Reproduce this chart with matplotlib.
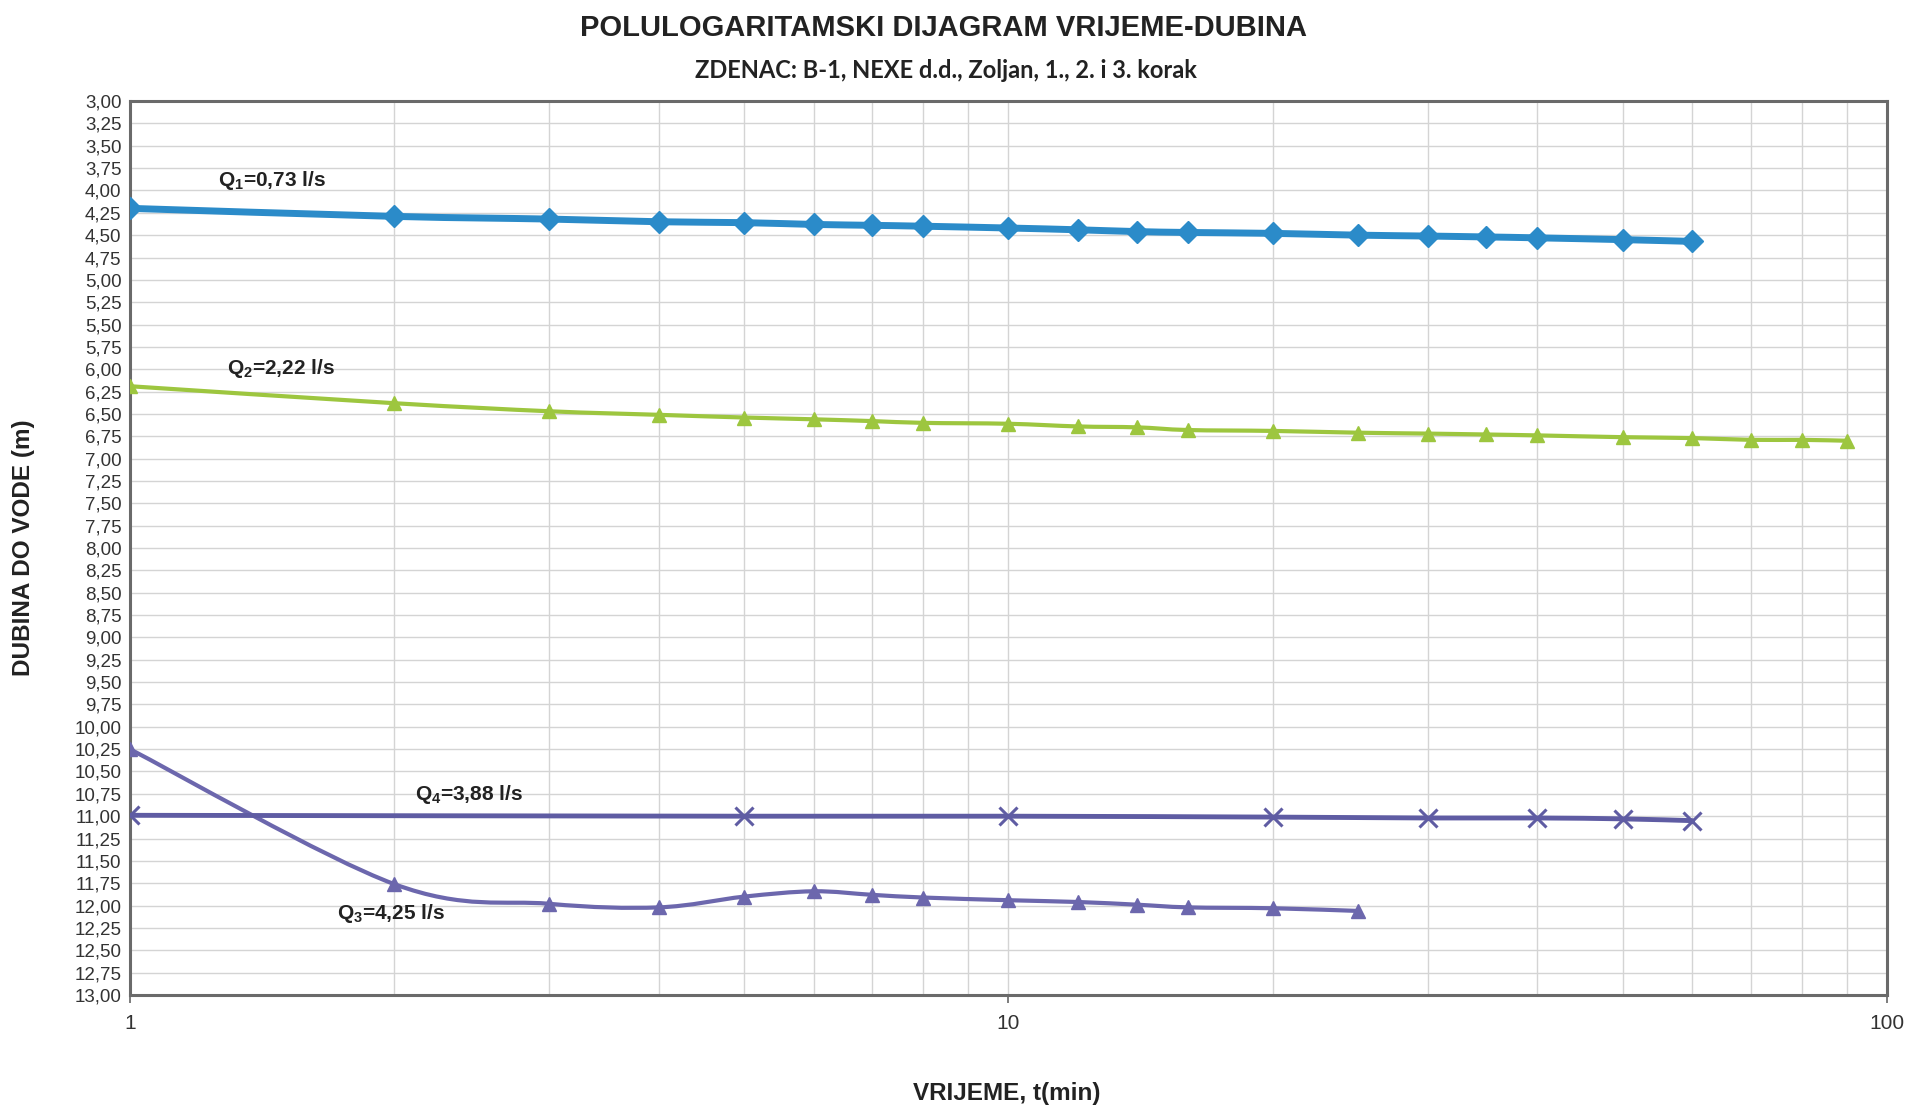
import numpy as np
import matplotlib
matplotlib.use("Agg")
import matplotlib.pyplot as plt
from matplotlib.path import Path
from matplotlib.patches import PathPatch
from matplotlib.ticker import FixedLocator, FuncFormatter, LogLocator, NullFormatter

# vrijeme (min) i dubina do vode (m) po koracima crpljenja
t_q1 = [1, 2, 3, 4, 5, 6, 7, 8, 10, 12, 14, 16, 20, 25, 30, 35, 40, 50, 60]
d_q1 = [4.20, 4.29, 4.32, 4.35, 4.36, 4.38, 4.39, 4.40, 4.42, 4.44, 4.46,
        4.47, 4.48, 4.50, 4.51, 4.52, 4.53, 4.55, 4.57]

t_q2 = [1, 2, 3, 4, 5, 6, 7, 8, 10, 12, 14, 16, 20, 25, 30, 35, 40, 50, 60,
        70, 80, 90]
d_q2 = [6.19, 6.38, 6.47, 6.51, 6.54, 6.56, 6.58, 6.60, 6.61, 6.64, 6.65,
        6.68, 6.69, 6.71, 6.72, 6.73, 6.74, 6.76, 6.77, 6.79, 6.79, 6.80]

t_q3 = [1, 2, 3, 4, 5, 6, 7, 8, 10, 12, 14, 16, 20, 25]
d_q3 = [10.25, 11.76, 11.98, 12.02, 11.90, 11.84, 11.88, 11.91, 11.94,
        11.96, 11.99, 12.02, 12.03, 12.06]

t_q4 = [1, 5, 10, 20, 30, 40, 50, 60]
d_q4 = [10.99, 11.00, 11.00, 11.01, 11.02, 11.02, 11.03, 11.05]

labels = ["Q$_{1}$=0,73 l/s", "Q$_{2}$=2,22 l/s", "Q$_{3}$=4,25 l/s", "Q$_{4}$=3,88 l/s"]

plt.rcParams["font.family"] = ["Liberation Sans", "DejaVu Sans"]
plt.rcParams["mathtext.fontset"] = "custom"
plt.rcParams["mathtext.rm"] = "Liberation Sans:bold"
plt.rcParams["mathtext.it"] = "Liberation Sans:bold"


def smooth_path(t, d):
    # Bezier spline kroz tocke (kao "smoothed line" u Excelu), racunano u log prostoru
    x = np.log10(np.asarray(t, dtype=float))
    y = np.asarray(d, dtype=float)
    p = np.column_stack([x, y])
    n = len(p)
    verts = [p[0]]
    codes = [Path.MOVETO]
    for i in range(n - 1):
        p0 = p[max(i - 1, 0)]
        p1 = p[i]
        p2 = p[i + 1]
        p3 = p[min(i + 2, n - 1)]
        c1 = p1 + (p2 - p0) / 6.0
        c2 = p2 - (p3 - p1) / 6.0
        verts += [c1, c2, p2]
        codes += [Path.CURVE4] * 3
    verts = np.array(verts)
    verts[:, 0] = 10 ** verts[:, 0]
    return Path(verts, codes)


fig = plt.figure(figsize=(19.1, 11.07), dpi=100)
ax = fig.add_axes([0.068, 0.1012, 0.920, 0.8075])

series = [
    (t_q1, d_q1, "#2b8bc9", 5.0, "D", 11, 1),
    (t_q2, d_q2, "#9dc63f", 3.0, "^", 10, 1),
    (t_q3, d_q3, "#6c67ad", 3.0, "^", 10, 1),
    (t_q4, d_q4, "#5f5ca3", 3.5, "x", 13, 2.2),
]
for t, d, col, lw, mk, ms, mew in series:
    ax.add_patch(PathPatch(smooth_path(t, d), fill=False, edgecolor=col,
                           lw=lw, capstyle="round", joinstyle="round", zorder=3))
    ax.plot(t, d, linestyle="none", marker=mk, ms=ms, color=col, mew=mew, zorder=4)

ax.set_xscale("log")
ax.set_xlim(1, 100)
ax.set_ylim(13, 3)

yt = np.arange(3, 13.001, 0.25)
ax.yaxis.set_major_locator(FixedLocator(yt))
ax.yaxis.set_major_formatter(FuncFormatter(lambda v, _: f"{v:.2f}".replace(".", ",")))
ax.xaxis.set_major_locator(FixedLocator([1, 10, 100]))
ax.xaxis.set_major_formatter(FuncFormatter(lambda v, _: f"{v:g}"))
ax.xaxis.set_minor_locator(LogLocator(base=10, subs=np.arange(2, 10)))
ax.xaxis.set_minor_formatter(NullFormatter())

ax.grid(True, which="both", axis="x", color="#d4d4d4", lw=1.0)
ax.grid(True, which="major", axis="y", color="#d4d4d4", lw=1.0)
ax.set_axisbelow(True)

ax.tick_params(axis="y", length=0, pad=6, labelsize=13.5, labelcolor="#333333")
ax.tick_params(axis="x", which="major", length=6, width=1.2, color="#666666",
               pad=8, labelsize=15, labelcolor="#333333")
ax.tick_params(axis="x", which="minor", length=0)
for s in ax.spines.values():
    s.set_color("#6a6a6a")
    s.set_linewidth(2.2)

# natpisi protoka uz krivulje
ax.text(1.26, 3.95, labels[0], fontsize=15, fontweight="bold", color="#222222")
ax.text(1.29, 6.05, labels[1], fontsize=15, fontweight="bold", color="#222222")
ax.text(1.72, 12.15, labels[2], fontsize=15, fontweight="bold", color="#222222")
ax.text(2.11, 10.82, labels[3], fontsize=15, fontweight="bold", color="#222222")

fig.text(0.494, 0.975, "POLULOGARITAMSKI DIJAGRAM VRIJEME-DUBINA", ha="center",
         va="center", fontsize=21, fontweight="bold", color="#222222")
fig.text(0.495, 0.936, "ZDENAC: B-1, NEXE d.d., Zoljan, 1., 2. i 3. korak", ha="center",
         va="center", fontsize=17, fontweight="bold", color="#222222", family=["Lato", "DejaVu Sans"])
fig.text(0.0125, 0.505, "DUBINA DO VODE (m)", rotation=90, ha="center", va="center",
         fontsize=17.5, fontweight="bold", color="#222222")
fig.text(0.527, 0.0125, "VRIJEME, t(min)", ha="center", va="center",
         fontsize=17.5, fontweight="bold", color="#222222")

fig.savefig("out.png", dpi=100, facecolor="white")
